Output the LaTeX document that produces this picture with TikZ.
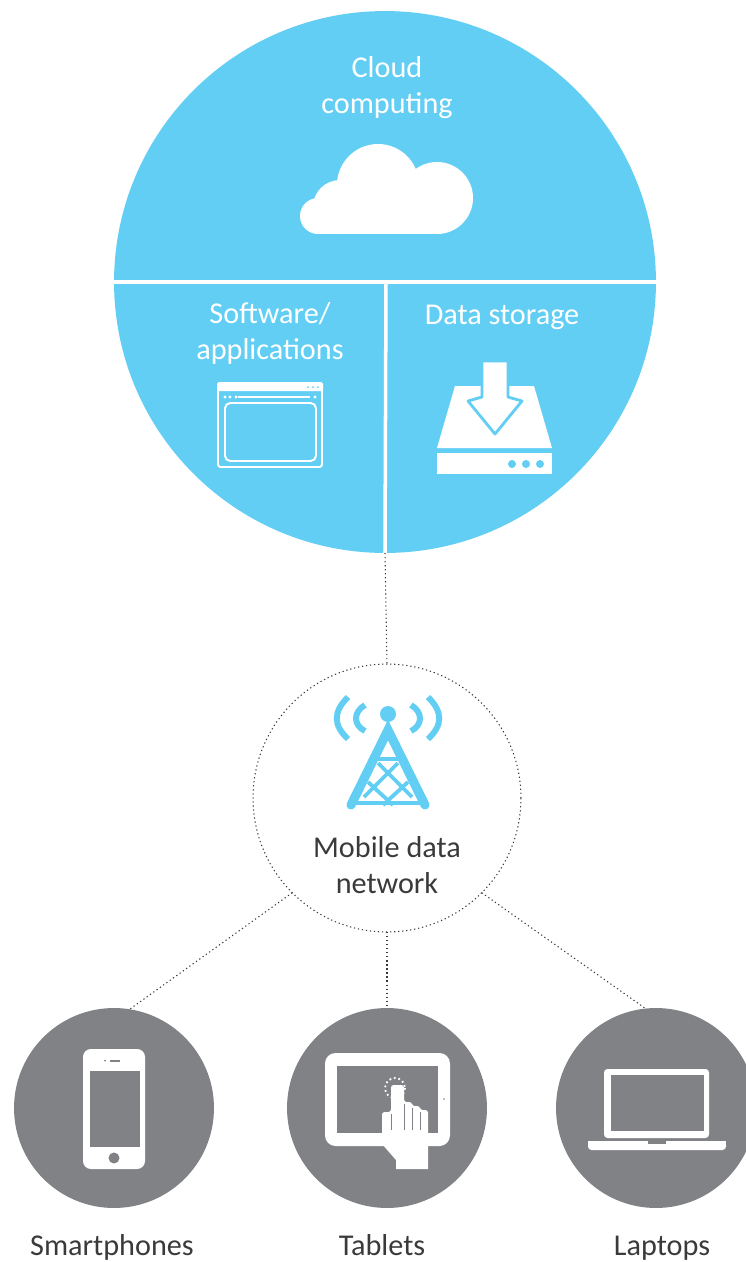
\documentclass[tikz,border=0pt]{standalone}
\usepackage{fontspec}
\setmainfont{Carlito}
\definecolor{skyblue}{HTML}{63CEF4}
\definecolor{devicegray}{HTML}{808285}
\definecolor{labelgray}{HTML}{3A3A3C}
\tikzset{
    dotlink/.style={draw=labelgray, line width=0.6pt, dash pattern=on 0.7pt off 1.6pt},
    bigdisc/.style={circle, fill=skyblue, minimum size=10.84cm, inner sep=0pt, outer sep=0pt},
    devicedisc/.style={circle, fill=devicegray, minimum size=4cm, inner sep=0pt, outer sep=0pt},
    ringdisc/.style={circle, dotlink, minimum size=5.36cm, inner sep=0pt, outer sep=0pt},
    whitetext/.style={text=white, font=\fontsize{17.2}{20.5}\selectfont, align=center},
    darktext/.style={text=labelgray, font=\fontsize{17.2}{20.5}\selectfont, align=center},
    devicetext/.style={darktext, anchor=base},
    towerline/.style={draw=skyblue, line cap=round}
}

\begin{document}
\begin{tikzpicture}[x=0.02cm, y=-0.02cm]
            \clip (0, 0) rectangle (746, 1262);
            \node [bigdisc] (cloud) at (385, 282) {};
            \node [ringdisc] (mobile) at (387, 798) {};
            \node [devicedisc] (phone) at (114, 1108) {};
            \node [devicedisc] (tablet) at (387, 1108) {};
            \node [devicedisc] (laptop) at (656, 1108) {};

            \node [whitetext] (cloud_label) at (387, 88) {Cloud\\computing};
            \node [whitetext] (software_label) at (270, 333) {Software/\\applications};
            \node [whitetext] (storage_label) at (502, 317) {Data storage};
            \node [darktext] (mobile_label) at (387, 865) {Mobile data\\network};
            \node [devicetext] (phone_label) at (112, 1255) {Smartphones};
            \node [devicetext] (tablet_label) at (382, 1255) {Tablets};
            \node [devicetext] (laptop_label) at (662, 1255) {Laptops};

            \draw [dotlink] (cloud.south) -- (mobile.north);
            \draw [dotlink] (mobile.225) -- (phone.81);
            \draw [dotlink] (mobile.south) -- (tablet.north);
            \draw [dotlink] (mobile.315) -- (laptop.96);

            % dividing lines
            \draw [white, line width=2pt] (cloud.west) -- (cloud.east);
            \draw [white, line width=2pt] (386, 282) -- (cloud.south);

            % cloud
            \fill [white] (378, 185) circle (41);
            \fill [white] (437, 198) circle (36);
            \fill [white] (340, 207) circle (27);
            \fill [white] (318, 216) circle (18);
            \fill [white] (318, 200) rectangle (437, 234);

            % window
            \draw [white, line width=1.1pt, rounded corners=1.5pt] (218, 383) rectangle (322, 467);
            \fill [white, rounded corners=1pt] (217, 382) rectangle (323, 391);
            \draw [white, line width=1.1pt, rounded corners=3pt] (225, 403) rectangle (316, 461);
            \draw [white, line width=1.3pt] (238, 397) -- (310, 397);
            \fill [white] (225, 397) circle (1.7) (230, 397) circle (1.7) (236, 397) circle (1.7) (315, 397) circle (1.7);
            \fill [skyblue] (308, 387) circle (1) (313, 387) circle (1) (318, 387) circle (1);

            % storage
            \fill [white] (455, 386) -- (534, 386) -- (552, 448) -- (437, 448) -- cycle;
            \fill [white] (437, 453) rectangle (552, 474);
            \fill [skyblue] (512, 464) circle (4) (526, 464) circle (4) (540, 464) circle (4);
            \filldraw [fill=white, draw=skyblue, line width=1.6pt, line join=round] (482, 361) -- (508, 361) -- (508, 397) -- (522, 401) -- (495, 434) -- (468, 401) -- (482, 397) -- cycle;

            % tower
            \draw [towerline, line width=5.2pt] (351, 805) -- (388, 730) -- (425, 805);
            \fill [skyblue] (388, 714) circle (8);
            \draw [draw=skyblue, line width=2.3pt] (352, 803) -- (424, 803);
            \draw [draw=skyblue, line width=2.3pt] (370, 759) -- (406, 759);
            \draw [draw=skyblue, line width=2.2pt] (378, 763) -- (412, 797);
            \draw [draw=skyblue, line width=2.2pt] (398, 763) -- (364, 797);
            \draw [draw=skyblue, line width=2.2pt] (368, 782) -- (393, 805);
            \draw [draw=skyblue, line width=2.2pt] (408, 782) -- (383, 805);
            \draw [draw=skyblue, line width=3.4pt] (365, 705) .. controls (353, 712) and (353, 725) .. (365, 731);
            \draw [draw=skyblue, line width=3.4pt] (411, 705) .. controls (423, 712) and (423, 725) .. (411, 731);
            \draw [draw=skyblue, line width=3.4pt] (348, 697) .. controls (333, 712) and (333, 725) .. (348, 739);
            \draw [draw=skyblue, line width=3.4pt] (428, 697) .. controls (443, 712) and (443, 725) .. (428, 739);

            % smartphone
            \fill [white, rounded corners=4.5pt] (83, 1049) rectangle (145, 1169);
            \fill [devicegray] (90, 1071) rectangle (140, 1147);
            \fill [devicegray] (114, 1158) circle (5.5);
            \fill [devicegray] (110, 1059.5) rectangle (120, 1061.5);
            \fill [devicegray] (105, 1060.5) circle (1);

            % tablet
            \fill [white, rounded corners=6pt] (325, 1053) rectangle (450, 1146);
            \fill [devicegray] (337, 1066) rectangle (438, 1133);
            \fill [devicegray] (444, 1099) circle (0.8);
            \fill [white, rounded corners=1.5pt] (382, 1146) -- (382, 1112) -- (391, 1112) -- (391, 1085) -- (404, 1085) -- (404, 1102) -- (412, 1102) -- (412, 1106) -- (420, 1106) -- (420, 1110) -- (428, 1110) -- (428, 1146) -- cycle;
            \fill [white] (382, 1144) -- (428, 1144) -- (428, 1169) -- (396, 1169) -- (396, 1160) -- cycle;
            \draw [devicegray, line width=0.5pt] (391, 1114) -- (391, 1130);
            \draw [devicegray, line width=0.5pt] (404, 1104) -- (404, 1130);
            \draw [devicegray, line width=0.5pt] (412, 1108) -- (412, 1130);
            \draw [devicegray, line width=0.5pt] (420, 1112) -- (420, 1130);
            \draw [white, line width=1pt, dash pattern=on 1pt off 1.6pt] (395, 1088) circle (10);

            % laptop
            \fill [white, rounded corners=2pt] (604, 1069) rectangle (709, 1138);
            \fill [devicegray] (611, 1075) rectangle (704, 1131);
            \fill [white, rounded corners=2pt] (588, 1141) rectangle (726, 1150);
            \fill [white] (588, 1141) rectangle (726, 1145);
            \fill [devicegray] (648, 1141) rectangle (666, 1144);
        \end{tikzpicture}
\end{document}
